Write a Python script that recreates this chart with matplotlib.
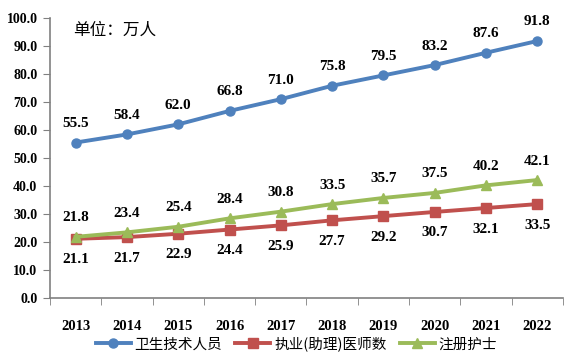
import matplotlib
matplotlib.use("Agg")
import matplotlib.pyplot as plt

years = ["2013", "2014", "2015", "2016", "2017", "2018", "2019", "2020", "2021", "2022"]
health_tech = [55.5, 58.4, 62.0, 66.8, 71.0, 75.8, 79.5, 83.2, 87.6, 91.8]
doctors = [21.1, 21.7, 22.9, 24.4, 25.9, 27.7, 29.2, 30.7, 32.1, 33.5]
nurses = [21.8, 23.4, 25.4, 28.4, 30.8, 33.5, 35.7, 37.5, 40.2, 42.1]
yticks = [0, 10, 20, 30, 40, 50, 60, 70, 80, 90, 100]

num_font = "Liberation Serif"
cjk_font = ["Noto Sans CJK SC", "DejaVu Sans"]

fig = plt.figure(figsize=(5.81, 3.61), dpi=100)
ax = fig.add_axes([0.086, 0.175, 0.883, 0.775])

x = list(range(len(years)))
series = [
    (health_tech, "#4F81BD", "o", "卫生技术人员", -19),
    (doctors, "#C0504D", "s", "执业(助理)医师数", 21),
    (nurses, "#9BBB59", "^", "注册护士", -19),
]
for vals, col, mk, name, off in series:
    ax.plot(x, vals, color=col, marker=mk, lw=2.8, ms=6.5, label=name)
    for xi, v in zip(x, vals):
        ax.annotate(f"{v:.1f}", (xi, v), xytext=(0, -off), textcoords="offset pixels",
                    ha="center", va="center", fontsize=11, fontweight="bold",
                    family=num_font)

ax.set_xlim(-0.5, len(years) - 0.5)
ax.set_ylim(0, 100)
ax.set_yticks(yticks)
ax.set_yticklabels([f"{t:.1f}" for t in yticks], fontsize=10, fontweight="bold", family=num_font)
ax.set_xticks(x)
ax.set_xticklabels(years, fontsize=10.5, fontweight="bold", family=num_font)
ax.set_xticks([i + 0.5 for i in range(-1, len(years))], minor=True)
ax.tick_params(axis="x", which="major", length=0, pad=16)
ax.tick_params(axis="x", which="minor", length=5, direction="out", color="#808080")
ax.tick_params(axis="y", length=5, direction="out", color="#808080", pad=4)
for s in ["top", "right"]:
    ax.spines[s].set_visible(False)
for s in ["left", "bottom"]:
    ax.spines[s].set_color("#808080")
    ax.spines[s].set_linewidth(1.2)

ax.text(0.045, 0.985, "单位：万人", transform=ax.transAxes, ha="left", va="top",
        fontsize=12, family=cjk_font)

fig.legend(loc="lower center", bbox_to_anchor=(0.51, -0.01), ncol=3, frameon=False,
           handlelength=2.4, columnspacing=0.9, handletextpad=0.25,
           prop={"family": cjk_font, "size": 10.5})

fig.savefig("out.png", dpi=100)
